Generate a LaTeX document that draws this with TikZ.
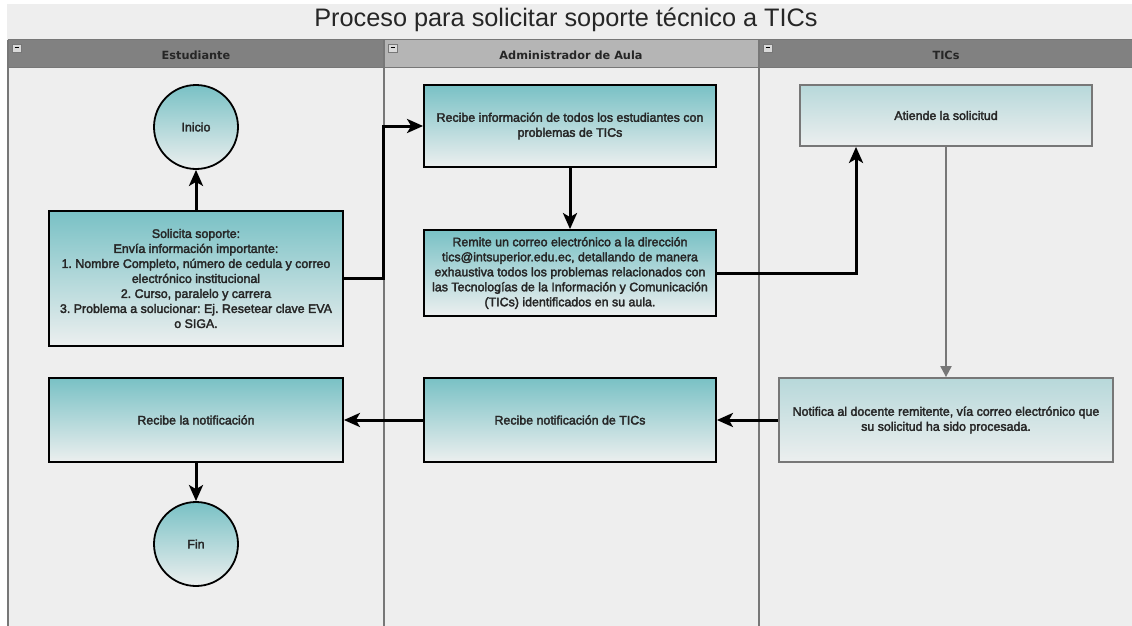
\documentclass[tikz,border=0pt]{standalone}
\usepackage{fontspec}
\setmainfont{Liberation Sans}
\newfontfamily\boxfont[FakeBold=2.6]{Liberation Sans}
\newfontfamily\lanefont{DejaVu Sans}
\usetikzlibrary{arrows.meta}
\frenchspacing

\definecolor{laneDark}{HTML}{818181}
\definecolor{laneLight}{HTML}{B5B5B5}
\definecolor{panel}{HTML}{EEEEEE}
\definecolor{tealTop}{HTML}{79C1C5}
\definecolor{tealBot}{HTML}{ECEFEF}
\definecolor{paleTop}{HTML}{B7D8DA}
\definecolor{txt}{HTML}{262626}
\definecolor{edgeGray}{HTML}{777777}

\tikzset{
  task/.style={draw=black, line width=1.8pt, rectangle, inner sep=1pt,
    top color=tealTop, bottom color=tealBot, text=txt, align=center,
    font=\boxfont\fontsize{12.4}{15}\selectfont},
  paletask/.style={task, draw=edgeGray, top color=paleTop},
  term/.style={task, circle, minimum size=84pt},
  flow/.style={line width=3pt, -{Stealth[length=16pt,width=14pt,inset=4pt]}},
  flowgray/.style={line width=2pt, draw=edgeGray,
    -{Triangle[length=11pt,width=11pt,fill=edgeGray]}},
  lanehead/.style={text=txt, font=\lanefont\fontsize{11.3}{13}\selectfont\bfseries}
}

\begin{document}
\begin{tikzpicture}[x=1pt,y=-1pt]
  \useasboundingbox (0,0) rectangle (1132,626);
  \fill[white] (0,0) rectangle (1132,626);
  \fill[panel] (7,4) rectangle (1132,626);

  % title
  \node[text=black!85, font=\fontsize{25.3}{28}\selectfont] (title) at (566,20)
    {Proceso para solicitar soporte técnico a TICs};

  % lanes
  \fill[laneDark] (8,40) rectangle (384,68);
  \fill[laneLight] (384,40) rectangle (759,68);
  \fill[laneDark] (759,40) rectangle (1132,68);
  \draw[edgeGray, line width=1pt] (8,40) -- (1132,40);
  \draw[edgeGray, line width=1pt] (8,68) -- (1132,68);
  \foreach \x in {8,384,759}
    \draw[edgeGray, line width=2pt] (\x,40) -- (\x,626);
  \foreach \x in {12,388,763} {
    \fill[white!85!black, draw=edgeGray, line width=0.4pt] (\x,44) rectangle ++(9,8);
    \draw[black, line width=1pt] (\x+2.5,48) -- ++(4,0);
  }
  \node[lanehead] (laneA) at (196,55) {Estudiante};
  \node[lanehead] (laneB) at (571,55) {Administrador de Aula};
  \node[lanehead] (laneC) at (946,55) {TICs};

  % Estudiante
  \node[term] (inicio) at (196,127) {Inicio};
  \node[task, minimum width=294pt, minimum height=135pt] (solicita) at (196,278.5)
    {Solicita soporte:\\Envía información importante:\\1. Nombre Completo, número de cedula y correo\\electrónico institucional\\2. Curso, paralelo y carrera\\3. Problema a solucionar: Ej. Resetear clave EVA\\o SIGA.};
  \node[task, minimum width=294pt, minimum height=84pt] (recnot) at (196,420)
    {Recibe la notificación};
  \node[term] (fin) at (196,544) {Fin};

  % Administrador de Aula
  \node[task, minimum width=292pt, minimum height=82pt] (recinfo) at (570,126)
    {Recibe información de todos los estudiantes con\\problemas de TICs};
  \node[task, minimum width=292pt, minimum height=86pt] (remite) at (570,273)
    {Remite un correo electrónico a la dirección\\tics@intsuperior.edu.ec, detallando de manera\\exhaustiva todos los problemas relacionados con\\las Tecnologías de la Información y Comunicación\\(TICs) identificados en su aula.};
  \node[task, minimum width=292pt, minimum height=84pt] (rectics) at (570,420)
    {Recibe notificación de TICs};

  % TICs
  \node[paletask, minimum width=292pt, minimum height=61pt] (atiende) at (946,115.5)
    {Atiende la solicitud};
  \node[paletask, minimum width=334pt, minimum height=84pt] (notifica) at (946,420)
    {Notifica al docente remitente, vía correo electrónico que\\su solicitud ha sido procesada.};

  \begin{scope}
    \draw[flow] (solicita.north) to (inicio.south);
    \draw[flow] (solicita.east) -- (383,278.5) |- (recinfo.west);
    \draw[flow] (recinfo.south) to (remite.north);
    \draw[flow] (remite.east) -| ([xshift=-90pt]atiende.south);
    \draw[flowgray] (atiende.south) to (notifica.north);
    \draw[flow] (notifica.west) to (rectics.east);
    \draw[flow] (rectics.west) to (recnot.east);
    \draw[flow] (recnot.south) to (fin.north);
  \end{scope}
\end{tikzpicture}
\end{document}
